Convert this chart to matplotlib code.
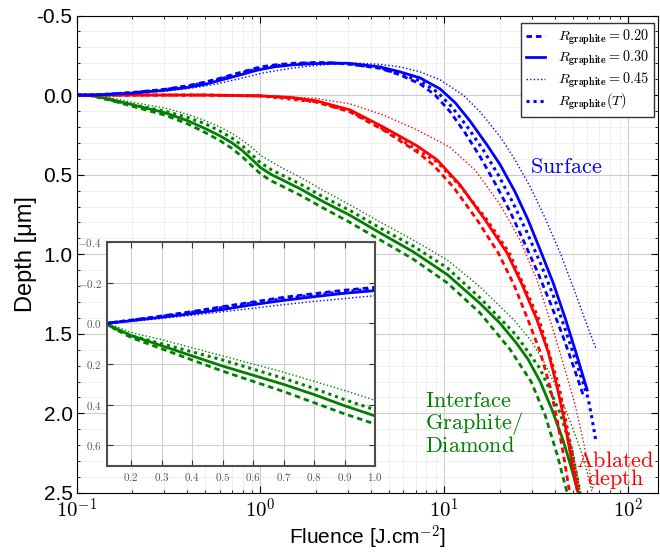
import matplotlib
matplotlib.use('Agg')
import matplotlib.pyplot as plt
from matplotlib.ticker import FixedLocator, FixedFormatter, MultipleLocator, LogLocator, NullFormatter

plt.rcParams['font.family'] = ['Liberation Sans', 'DejaVu Sans']
plt.rcParams['mathtext.fontset'] = 'cm'
plt.rcParams['axes.unicode_minus'] = False

# shared low-fluence grid (J/cm2)
f_low = [0.1, 0.12, 0.15, 0.2, 0.3, 0.4, 0.5, 0.6, 0.7, 0.8, 0.9, 1.0]

# Surface (blue)
surf_020_low = [0, 0, -0.006, -0.016, -0.036, -0.058, -0.082, -0.105, -0.128, -0.146, -0.163, -0.177]
surf_020_f = [1.2, 1.5, 2.0, 2.5, 3.0, 4.48, 5.75, 7.39, 8.92, 10.8, 13.0, 15.7, 18.9, 22.9, 27.2, 32.4, 38.2, 44.4, 50.9, 57.8]
surf_020_d = [-0.19, -0.2, -0.205, -0.203, -0.196, -0.168, -0.127, -0.070, -0.001, 0.106, 0.238, 0.388, 0.553, 0.735, 0.923, 1.118, 1.319, 1.520, 1.715, 1.904]

surf_030_low = [0, 0, -0.005, -0.013, -0.030, -0.048, -0.068, -0.092, -0.113, -0.131, -0.148, -0.161]
surf_030_f = [1.2, 1.5, 2.0, 2.5, 3.0, 4.48, 5.75, 7.39, 9.5, 11.5, 13.8, 17.1, 20.2, 24.3, 28.6, 33.3, 39.2, 45.5, 52.2, 60.0]
surf_030_d = [-0.178, -0.19, -0.198, -0.2, -0.2, -0.177, -0.146, -0.108, -0.039, 0.049, 0.162, 0.313, 0.439, 0.608, 0.784, 0.973, 1.181, 1.400, 1.620, 1.853]

surf_045_low = [0, 0, -0.004, -0.010, -0.024, -0.040, -0.057, -0.074, -0.092, -0.108, -0.122, -0.136]
surf_045_f = [1.2, 1.5, 2.0, 2.5, 3.0, 3.5, 4.48, 5.75, 7.39, 9.5, 12.7, 15.7, 20.2, 24.3, 29.4, 35.4, 42.8, 50.3, 58.5, 67.1]
surf_045_d = [-0.152, -0.17, -0.186, -0.195, -0.2, -0.2, -0.193, -0.177, -0.146, -0.096, 0.0, 0.106, 0.263, 0.407, 0.577, 0.772, 0.992, 1.206, 1.413, 1.595]

surf_T_low = [0, 0, -0.006, -0.015, -0.034, -0.055, -0.078, -0.100, -0.121, -0.139, -0.156, -0.170]
surf_T_f = [1.2, 1.5, 2.0, 2.5, 3.0, 4.48, 5.75, 7.39, 9.15, 11.0, 13.3, 16.3, 19.7, 23.7, 28.3, 33.7, 39.7, 46.1, 52.9, 60.7, 63.9, 67.1]
surf_T_d = [-0.183, -0.195, -0.202, -0.201, -0.196, -0.171, -0.133, -0.089, -0.020, 0.074, 0.196, 0.344, 0.502, 0.678, 0.866, 1.067, 1.275, 1.488, 1.696, 1.904, 2.041, 2.180]

# Ablated depth (red)
abl_020_f = [0.1, 0.5, 1.0, 1.45, 2.01, 3.07, 4.65, 7.12, 8.7, 11.2, 15.1, 19.7, 24.0, 28.6, 33.3, 37.7, 41.2, 44.4, 47.9]
abl_020_d = [0, 0, 0.005, 0.018, 0.043, 0.106, 0.219, 0.357, 0.438, 0.577, 0.784, 0.992, 1.193, 1.413, 1.614, 1.834, 2.041, 2.249, 2.481]

abl_030_f = [0.1, 0.5, 1.0, 1.45, 2.01, 3.07, 4.65, 7.12, 9.15, 12.2, 16.7, 22.0, 26.6, 32.0, 36.8, 41.2, 45.0, 48.5, 52.9]
abl_030_d = [0, 0, 0.005, 0.014, 0.036, 0.093, 0.200, 0.319, 0.407, 0.564, 0.784, 0.992, 1.193, 1.413, 1.614, 1.834, 2.041, 2.249, 2.481]

abl_045_f = [0.1, 0.5, 1.0, 2.01, 3.07, 4.65, 7.12, 10.7, 14.7, 20.2, 25.9, 32.0, 39.2, 45.5, 51.6, 57.0, 62.3, 64.6]
abl_045_d = [0, 0, 0.002, 0.021, 0.055, 0.124, 0.219, 0.326, 0.470, 0.690, 0.913, 1.162, 1.476, 1.727, 1.947, 2.167, 2.387, 2.481]

abl_T_f = [0.1, 0.5, 1.0, 2.01, 3.07, 4.65, 7.12, 9.15, 12.2, 17.1, 22.6, 32.9, 42.2, 49.7, 54.2]
abl_T_d = [0, 0, 0.005, 0.043, 0.1, 0.212, 0.344, 0.42, 0.571, 0.784, 0.992, 1.413, 1.834, 2.249, 2.481]

# Interface graphite/diamond (green)
intf_020_low = [0, 0.003, 0.03, 0.07, 0.125, 0.18, 0.235, 0.285, 0.335, 0.39, 0.445, 0.495]
intf_020_f = [1.15, 1.3, 1.64, 2.2, 3.07, 4.48, 6.77, 10.4, 15.7, 22.9, 29.7, 35.4, 41.2, 46.7]
intf_020_d = [0.54, 0.57, 0.628, 0.71, 0.80, 0.91, 1.03, 1.18, 1.37, 1.60, 1.80, 2.01, 2.26, 2.50]

intf_030_low = [0, 0.003, 0.025, 0.06, 0.11, 0.16, 0.21, 0.255, 0.30, 0.35, 0.405, 0.455]
intf_030_f = [1.15, 1.3, 1.64, 2.2, 3.07, 4.48, 6.77, 10.4, 15.7, 20.0, 24.6, 28.6, 33.3, 38.7, 44.4, 49.7, 53.6]
intf_030_d = [0.50, 0.53, 0.588, 0.67, 0.755, 0.866, 0.984, 1.128, 1.31, 1.43, 1.555, 1.66, 1.80, 1.98, 2.17, 2.36, 2.50]

intf_045_low = [0, 0.002, 0.015, 0.045, 0.08, 0.12, 0.16, 0.20, 0.24, 0.285, 0.33, 0.378]
intf_045_f = [1.15, 1.3, 1.64, 2.2, 3.07, 4.48, 6.77, 10.4, 15.7, 24.3, 30.0, 35.4, 41.7, 48.5, 54.9, 60.0, 63.9]
intf_045_d = [0.42, 0.455, 0.515, 0.60, 0.69, 0.797, 0.91, 1.036, 1.206, 1.42, 1.55, 1.69, 1.86, 2.05, 2.22, 2.37, 2.50]

intf_T_low = [0, 0.003, 0.03, 0.06, 0.10, 0.14, 0.18, 0.225, 0.27, 0.32, 0.375, 0.425]
intf_T_f = [1.15, 1.3, 1.64, 2.2, 3.07, 4.48, 6.77, 10.4, 15.7, 24.6, 33.3, 42.8, 49.7, 54.9]
intf_T_d = [0.47, 0.50, 0.558, 0.64, 0.725, 0.835, 0.948, 1.086, 1.275, 1.507, 1.72, 2.00, 2.24, 2.50]

labels = [r'$R_{\mathbf{graphite}} = 0.20$', r'$R_{\mathbf{graphite}} = 0.30$',
          r'$R_{\mathbf{graphite}} = 0.45$', r'$R_{\mathbf{graphite}}(T)$']

styles = [dict(ls=(0, (2, 1.4)), lw=2.0),
          dict(ls='-', lw=2.0),
          dict(ls=(0, (1, 1.6)), lw=1.0),
          dict(ls=(0, (1, 1.3)), lw=2.2)]

surf = [(f_low + surf_020_f, surf_020_low + surf_020_d),
        (f_low + surf_030_f, surf_030_low + surf_030_d),
        (f_low + surf_045_f, surf_045_low + surf_045_d),
        (f_low + surf_T_f, surf_T_low + surf_T_d)]
abl = [(abl_020_f, abl_020_d), (abl_030_f, abl_030_d), (abl_045_f, abl_045_d), (abl_T_f, abl_T_d)]
intf = [(f_low + intf_020_f, intf_020_low + intf_020_d),
        (f_low + intf_030_f, intf_030_low + intf_030_d),
        (f_low + intf_045_f, intf_045_low + intf_045_d),
        (f_low + intf_T_f, intf_T_low + intf_T_d)]


def draw(a, groups):
    handles = []
    for curves, col in groups:
        for (x, y), st in zip(curves, styles):
            h, = a.plot(x, y, color=col, **st)
            if col == 'blue':
                handles.append(h)
    return handles


fig = plt.figure(figsize=(6.6, 5.52), dpi=100)
ax = fig.add_axes([0.1162, 0.1069, 0.881, 0.865])
handles = draw(ax, [(intf, 'green'), (abl, 'red'), (surf, 'blue')])

ax.set_xscale('log')
ax.set_xlim(0.1, 146)
ax.set_ylim(2.5, -0.5)
ax.xaxis.set_major_locator(FixedLocator([0.1, 1, 10, 100]))
ax.xaxis.set_major_formatter(FixedFormatter([r'$10^{-1}$', r'$10^{0}$', r'$10^{1}$', r'$10^{2}$']))
ax.xaxis.set_minor_locator(LogLocator(base=10, subs=range(2, 10)))
ax.xaxis.set_minor_formatter(NullFormatter())
ax.set_yticks([-0.5, 0.0, 0.5, 1.0, 1.5, 2.0, 2.5])
ax.set_yticklabels(['-0.5', '0.0', '0.5', '1.0', '1.5', '2.0', '2.5'])
ax.yaxis.set_minor_locator(MultipleLocator(0.1))
ax.tick_params(axis='x', which='major', labelsize=15, direction='in', top=True, length=5)
ax.tick_params(axis='y', which='major', labelsize=15, direction='in', right=True, length=5, pad=3)
ax.tick_params(which='minor', direction='in', top=True, right=True, length=2.5)
ax.grid(True, which='major', color='#cccccc', lw=0.8)
ax.grid(True, which='minor', color='#ececec', lw=0.6)
ax.set_axisbelow(True)
ax.set_xlabel(r'Fluence [J.cm$^{-2}$]', fontsize=15, labelpad=1)
ax.set_ylabel('Depth [μm]', fontsize=17, labelpad=0)

ax.legend(handles, labels, loc='upper right', bbox_to_anchor=(0.9931, 0.985),
          fontsize=10.3, handlelength=1.3, handletextpad=0.9, fancybox=False,
          framealpha=1, edgecolor='0.2', borderaxespad=0, borderpad=0.35,
          labelspacing=0.15)

ax.text(46.1, 0.491, r'$\mathrm{Surface}$', color='blue', fontsize=16, ha='center', va='baseline')
ax.text(7.87, 1.957, r'$\mathrm{Interface}$', color='green', fontsize=16, ha='left', va='baseline')
ax.text(7.87, 2.098, r'$\mathrm{Graphite/}$', color='green', fontsize=16, ha='left', va='baseline')
ax.text(7.87, 2.240, r'$\mathrm{Diamond}$', color='green', fontsize=16, ha='left', va='baseline')
ax.text(85.2, 2.335, r'$\mathrm{Ablated}$', color='red', fontsize=16, ha='center', va='baseline')
ax.text(85.2, 2.450, r'$\mathrm{depth}$', color='red', fontsize=16, ha='center', va='baseline')

# inset: linear zoom of the low fluence range (surface and interface only)
ins = fig.add_axes([0.1617, 0.1563, 0.4065, 0.4053])
draw(ins, [(intf, 'green'), (surf, 'blue')])
ins.set_xlim(0.12, 1.0)
ins.set_ylim(0.7, -0.4)
ins_x = [0.2, 0.3, 0.4, 0.5, 0.6, 0.7, 0.8, 0.9, 1.0]
ins.set_xticks(ins_x)
ins.set_xticklabels([r'$%.1f$' % v for v in ins_x])
ins.set_yticks([-0.4, -0.2, 0.0, 0.2, 0.4, 0.6])
ins.set_yticklabels([r'$-0.4$', r'$-0.2$', r'$0.0$', r'$0.2$', r'$0.4$', r'$0.6$'])
ins.tick_params(labelsize=8, labelcolor='0.35', direction='in', top=True, right=True, length=4, color='0.2')
ins.grid(True, color='#d0d0d0', lw=0.8)
for s in ins.spines.values():
    s.set_color('0.3')
    s.set_linewidth(1.5)

fig.savefig('out.png', dpi=100)
